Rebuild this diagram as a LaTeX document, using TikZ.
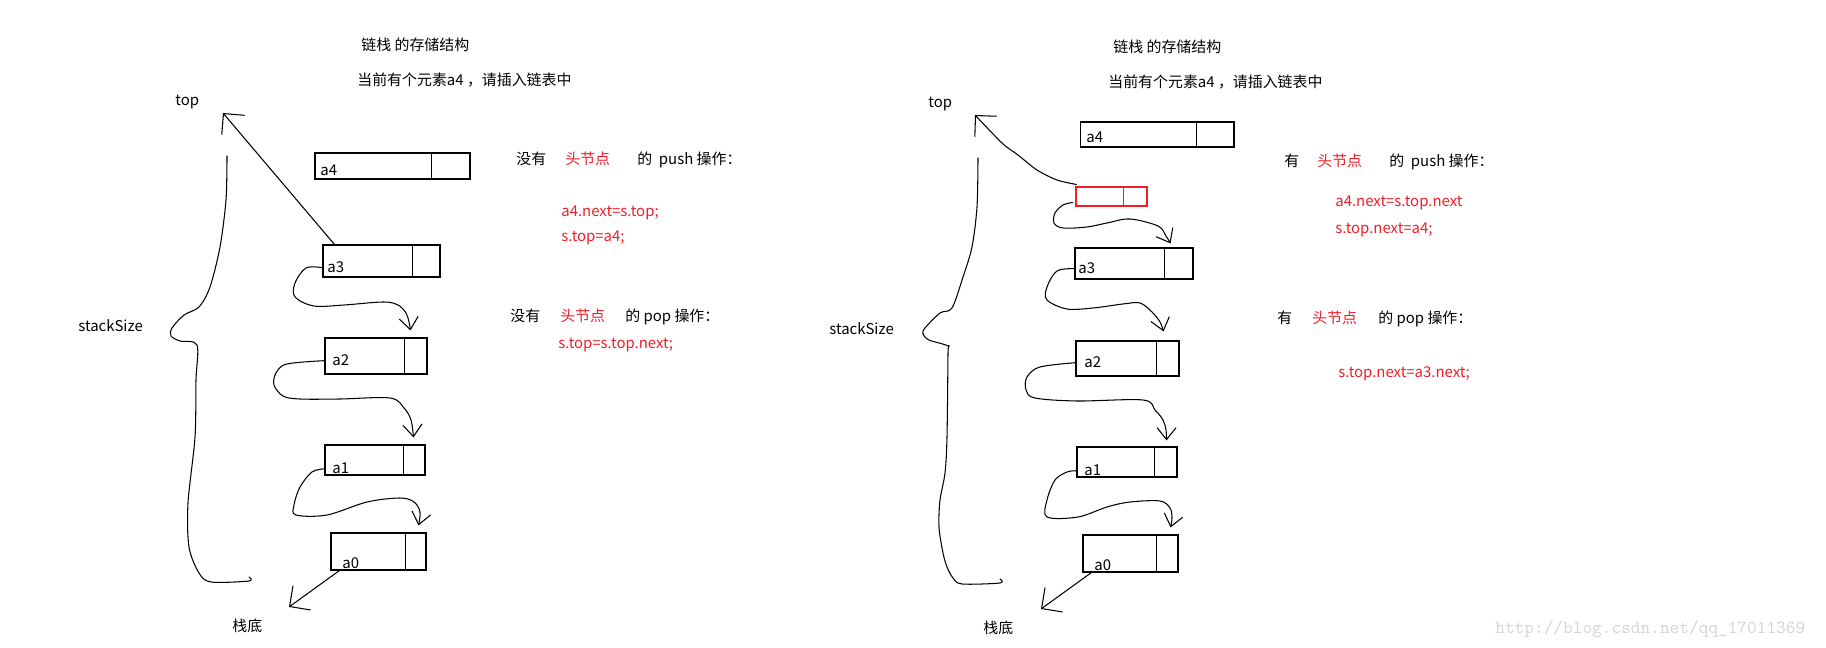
\documentclass[tikz,border=0pt]{standalone}
\usepackage{fontspec}
\setmainfont{Noto Sans CJK SC}
\usepackage{xcolor}
\usepackage{tikz}
\usetikzlibrary{
	arrows.meta,
	positioning,
	calc
}
\definecolor{hred}{RGB}{240,30,40}
\definecolor{wmgray}{RGB}{214,214,208}

\begin{document}
\begin{tikzpicture}[
				x=0.02cm, y=-0.02cm,
				cell/.style={
					rectangle, draw, line width=0.6pt, inner sep=0pt
				},
				headcell/.style={
					cell, draw=hred
				},
				txt/.style={
					inner sep=0pt, anchor=base west, font=\fontsize{8.5}{10}\selectfont
				},
				redtxt/.style={
					txt, text=hred
				},
				link/.style={line width=0.6pt, line cap=round, line join=round, -{Straight Barb[length=2.4mm, width=3.8mm]}},
				ptr/.style={line width=0.6pt, line cap=round, -{Straight Barb[length=3mm, width=6mm]}},
				brace/.style={line width=0.6pt, line cap=round, line join=round},
				]
				\useasboundingbox (0,0) rectangle (1826,648);
				
				%left: without head node
				\node[txt] (ltitle) at (361,51) {链栈 的存储结构};
				\node[txt] (lnote) at (357,86) {当前有个元素a4 ，请插入链表中};
				\node[txt] (ltop) at (175,106) {top};
				\node[txt] (lsize) at (78,332) {stackSize};
				\node[txt] (lbottom) at (232,631) {栈底};
				
				\node[cell, minimum width=3.10cm, minimum height=0.52cm] (la4) at (392.5,166) {};
				\node[cell, minimum width=2.34cm, minimum height=0.64cm] (la3) at (381.5,261) {};
				\node[cell, minimum width=2.04cm, minimum height=0.72cm] (la2) at (376,356) {};
				\node[cell, minimum width=2.00cm, minimum height=0.60cm] (la1) at (375,460) {};
				\node[cell, minimum width=1.90cm, minimum height=0.74cm] (la0) at (378.5,551.5) {};
				\foreach \n/\d in {la4/39, la3/28, la2/23, la1/22, la0/21}
					\draw[line width=0.6pt] ($(\n.north east)+(-\d,0)$) -- ($(\n.south east)+(-\d,0)$);
				
				\node[txt] (la4t) at (320,176) {a4};
				\node[txt] (la3t) at (327,273) {a3};
				\node[txt] (la2t) at (332,366) {a2};
				\node[txt] (la1t) at (332,474) {a1};
				\node[txt] (la0t) at (342,568) {a0};
				
				\coordinate (ltip) at (223,113);
				\coordinate (lend) at (289,607);
				\draw[ptr] ($(la3.north west)+(12,0)$) -- (ltip);
				\draw[ptr] ($(la0.south west)+(9,0)$) -- (lend);
				
				\draw[link] plot[smooth, tension=0.55] coordinates {(la3.west |- la3t.center) (306,268) (295,283) (295,297) (314,306) (344,305) (383,302) (398,305) (406,313) (409,322) ($(la2.north east)+(-17,-7)$)};
				\draw[link] plot[smooth, tension=0.55] coordinates {(la2.west |- la2t.center) (287,364) (276,373) (274,385) (283,396) (300,399) (340,399) (390,398) (404,408) (411,420) ($(la1.north east)+(-12,-7)$)};
				\draw[link] plot[smooth, tension=0.55] coordinates {(la1.west |- la1t.center) (312,472) (300,487) (294,505) (296,515) (327,515) (367,502) (400,498) (414,502) (420,512) ($(la0.north east)+(-8,-7)$)};
				
				\draw[brace] plot[smooth, tension=0.5] coordinates {(227,156) (226,200) (220,247) (210,287) (199,307) (184,315) (172,328) (171,336) (180,341) (197,345) (196,380) (195,437) (188,503) (189,547) (199,573) (211,582) (249,581) (249,577)};
				
				%push / pop without head node
				\node[txt] (lpushno) at (516,165) {没有};
				\node[redtxt] (lpushhd) at (565,165) {头节点};
				\node[txt] (lpushop) at (637,165) {的~~push 操作：};
				\node[redtxt] (lpush1) at (561,217) {a4.next=s.top;};
				\node[redtxt] (lpush2) at (561,242) {s.top=a4;};
				\node[txt] (lpopno) at (510,322) {没有};
				\node[redtxt] (lpophd) at (560,322) {头节点};
				\node[txt] (lpopop) at (625,322) {的 pop 操作：};
				\node[redtxt] (lpop1) at (558,349) {s.top=s.top.next;};
				
				%right: with head node
				\node[txt] (rtitle) at (1113,53) {链栈 的存储结构};
				\node[txt] (rnote) at (1108,88) {当前有个元素a4 ，请插入链表中};
				\node[txt] (rtop) at (928,108) {top};
				\node[txt] (rsize) at (829,335) {stackSize};
				\node[txt] (rbottom) at (983,633) {栈底};
				
				\node[cell, minimum width=3.08cm, minimum height=0.50cm] (ra4) at (1157,134.5) {};
				\node[headcell, minimum width=1.42cm, minimum height=0.38cm] (rhd) at (1111.5,196.5) {};
				\node[cell, minimum width=2.36cm, minimum height=0.62cm] (ra3) at (1134,263.5) {};
				\node[cell, minimum width=2.06cm, minimum height=0.70cm] (ra2) at (1127.5,358.5) {};
				\node[cell, minimum width=2.00cm, minimum height=0.60cm] (ra1) at (1127,462) {};
				\node[cell, minimum width=1.90cm, minimum height=0.74cm] (ra0) at (1130.5,553.5) {};
				\foreach \n/\d in {ra4/38, ra3/29, ra2/23, ra1/23, ra0/22}
					\draw[line width=0.6pt] ($(\n.north east)+(-\d,0)$) -- ($(\n.south east)+(-\d,0)$);
				\draw[line width=0.6pt, hred] ($(rhd.north east)+(-24,0)$) -- ($(rhd.south east)+(-24,0)$);
				
				\node[txt] (ra4t) at (1086,143) {a4};
				\node[txt] (ra3t) at (1078,274) {a3};
				\node[txt] (ra2t) at (1084,368) {a2};
				\node[txt] (ra1t) at (1084,476) {a1};
				\node[txt] (ra0t) at (1094,570) {a0};
				
				\coordinate (rtip) at (975,115);
				\coordinate (rend) at (1041,609);
				\draw[ptr] plot[smooth, tension=0.5] coordinates {($(rhd.north west)+(1,-2)$) (1057,180) (1037,170) (1018,155) (1002,143) (rtip)};
				\draw[ptr] ($(ra0.south west)+(9,0)$) -- (rend);
				
				\draw[link] plot[smooth, tension=0.55] coordinates {($(rhd.south west)+(-3,-4)$) (1063,205) (1055,213) (1054,223) (1063,228) (1087,227) (1107,223) (1130,219) (1158,226) (1166,236) ($(ra3.north east)+(-23,-4)$)};
				\draw[link] plot[smooth, tension=0.55] coordinates {(ra3.west |- ra3t.center) (1057,271) (1047,287) (1047,300) (1067,309) (1093,308) (1123,304) (1140,303) (1152,312) (1160,322) ($(ra2.north east)+(-16,-9)$)};
				\draw[link] plot[smooth, tension=0.55] coordinates {(ra2.west |- ra2t.center) (1040,367) (1027,377) (1026,390) (1035,398) (1077,401) (1143,400) (1155,410) (1163,420) (1166,430) ($(ra1.north east)+(-11,-6)$)};
				\draw[link] plot[smooth, tension=0.55] coordinates {(ra1.west |- ra1t.center) (1067,472) (1055,480) (1047,500) (1047,517) (1078,517) (1107,507) (1130,502) (1160,501) (1170,508) (1172,518) ($(ra0.north east)+(-8,-7)$)};
				
				\draw[brace] plot[smooth, tension=0.5] coordinates {(978,158) (977,207) (972,247) (963,277) (952,308) (940,313) (925,328) (923,334) (929,340) (948,346) (948,353) (947,437) (945,473) (940,500) (939,527) (943,553) (947,567) (953,578) (962,584) (1000,583) (1000,579)};
				
				%push / pop with head node
				\node[txt] (rpushhas) at (1284,167) {有};
				\node[redtxt] (rpushhd) at (1317,167) {头节点};
				\node[txt] (rpushop) at (1389,167) {的~~push 操作：};
				\node[redtxt] (rpush1) at (1335,207) {a4.next=s.top.next};
				\node[redtxt] (rpush2) at (1335,234) {s.top.next=a4;};
				\node[txt] (rpophas) at (1277,324) {有};
				\node[redtxt] (rpophd) at (1312,324) {头节点};
				\node[txt] (rpopop) at (1378,324) {的 pop 操作：};
				\node[redtxt] (rpop1) at (1338,378) {s.top.next=a3.next;};
				
				\node[txt, text=wmgray, font=\fontsize{10.5}{12}\ttfamily] (wmark) at (1495,633) {http://blog.csdn.net/qq\_17011369};
			\end{tikzpicture}
\end{document}
